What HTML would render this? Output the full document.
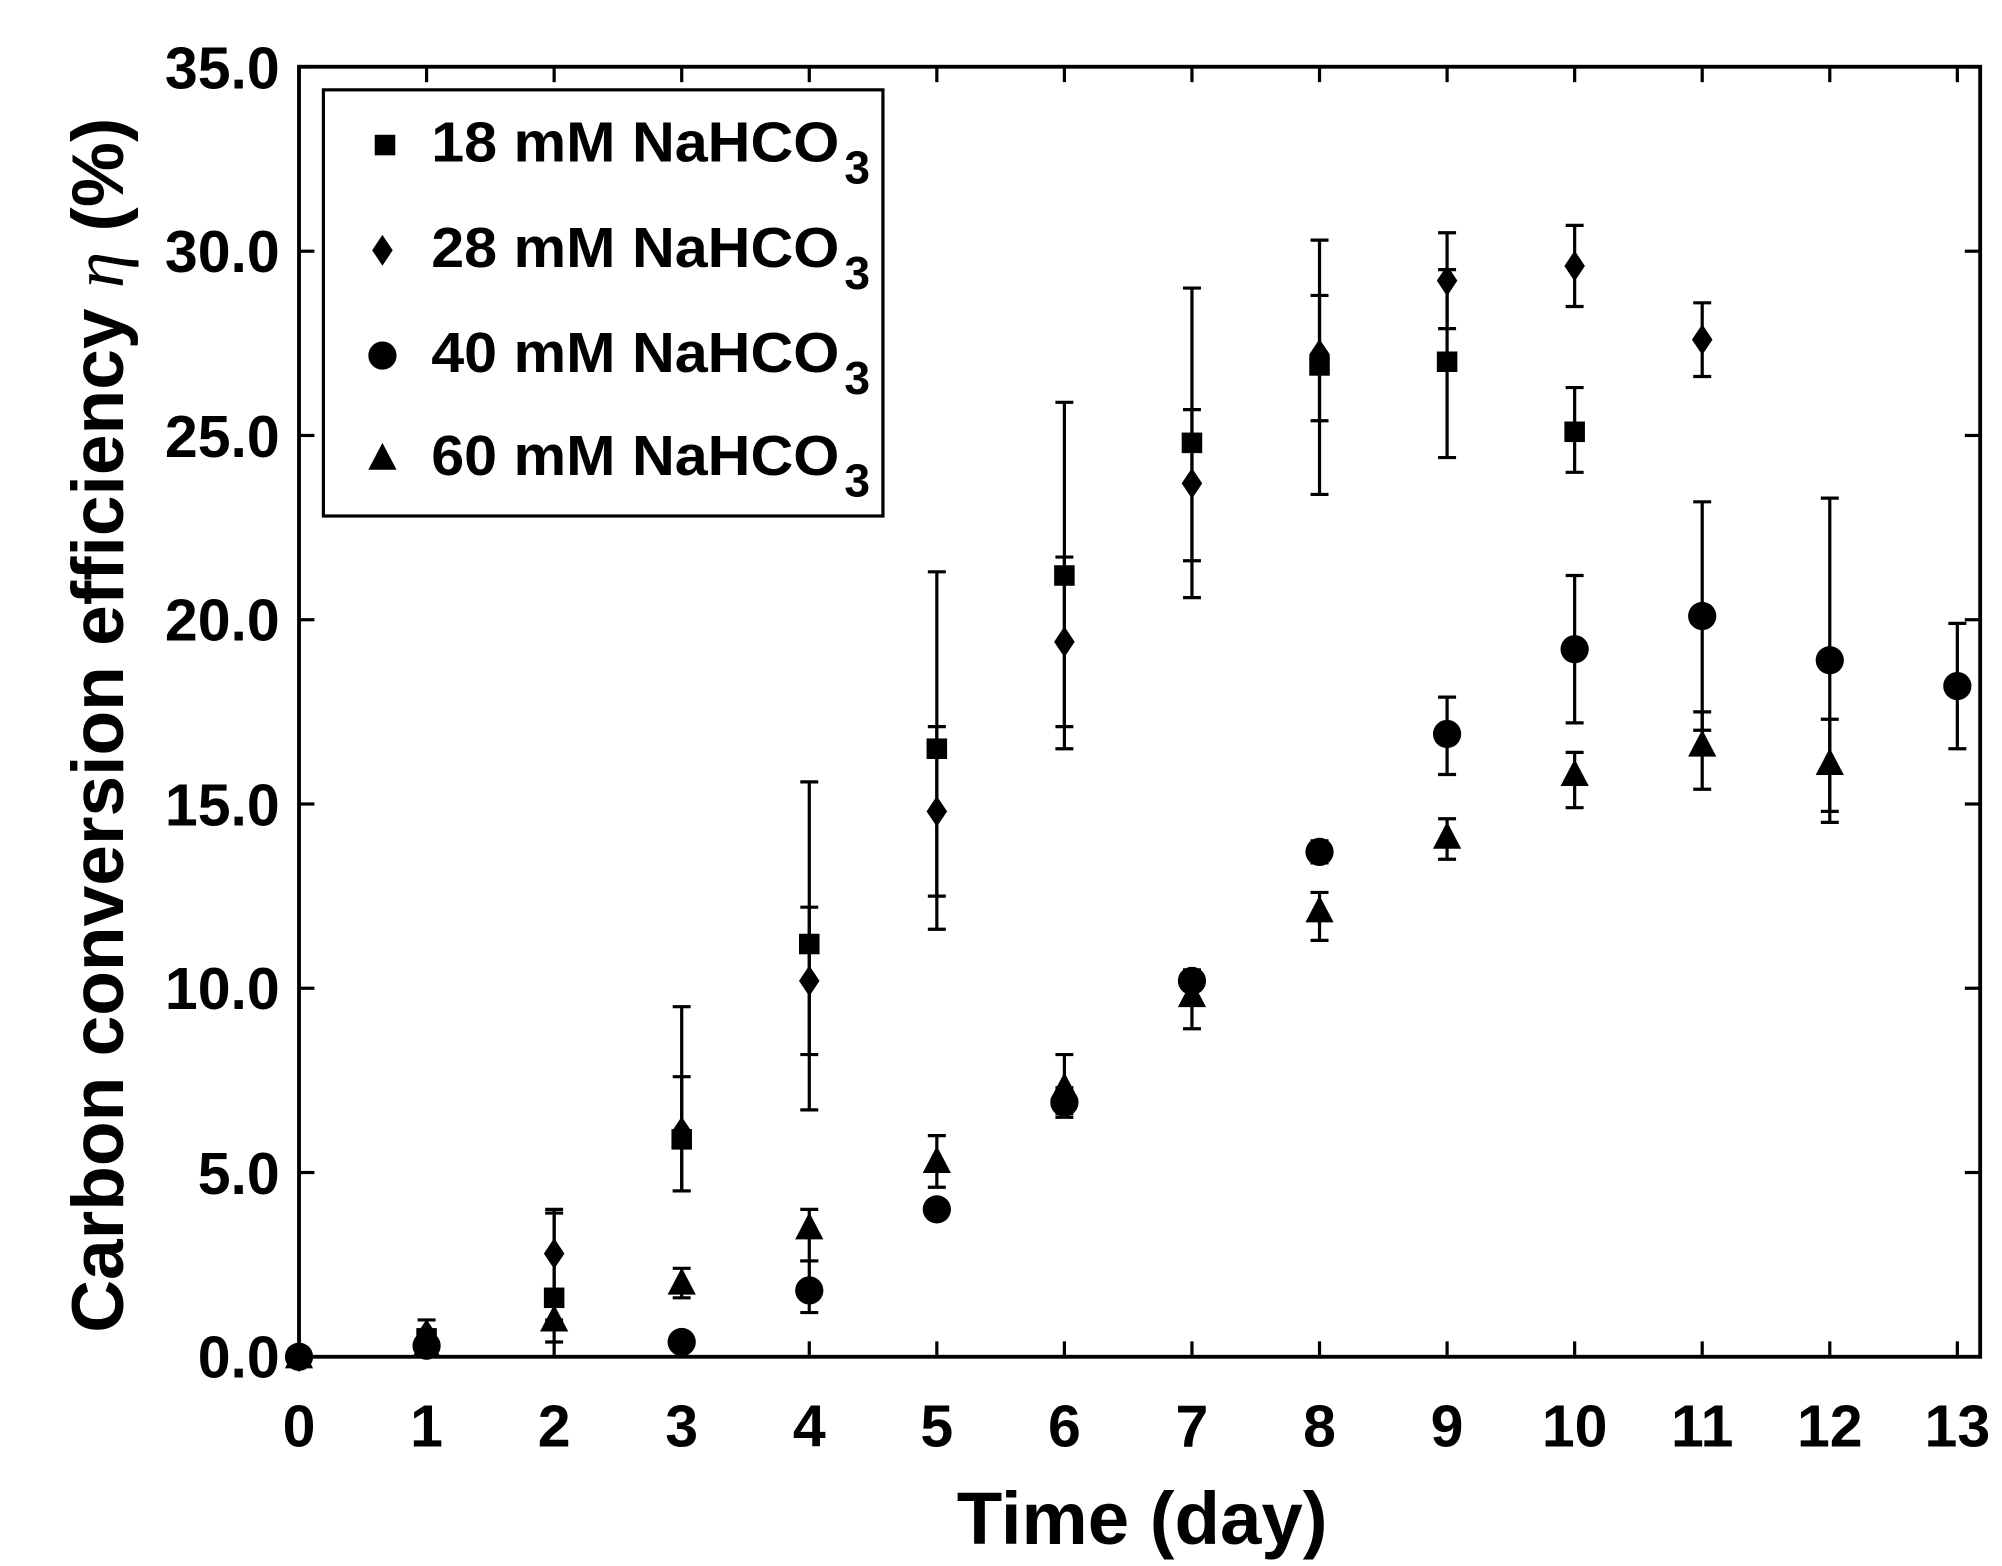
<!DOCTYPE html>
<html><head><meta charset="utf-8"><style>html,body{margin:0;padding:0;background:#fff}svg{display:block}</style></head>
<body>
<svg id="s" width="2002" height="1566" viewBox="0 0 1560 1220" preserveAspectRatio="none" xmlns="http://www.w3.org/2000/svg" font-family="Liberation Sans, sans-serif" font-weight="bold">
<rect x="233" y="52" width="1310" height="1005" fill="none" stroke="#000" stroke-width="3"/>
<g font-size="46" text-anchor="end">
<text x="218" y="1073">0.0</text><text x="218" y="930">5.0</text><text x="218" y="786">10.0</text><text x="218" y="643">15.0</text><text x="218" y="499">20.0</text><text x="218" y="356">25.0</text><text x="218" y="212">30.0</text><text x="218" y="69">35.0</text>
</g>
<g font-size="46" text-anchor="middle" id="xl"></g>
<text x="890" y="1203" font-size="58" text-anchor="middle">Time (day)</text>
<text transform="translate(96,565) rotate(-90)" font-size="57" text-anchor="middle">Carbon conversion efficiency <tspan font-family="Liberation Serif, serif" font-style="italic" font-weight="normal">η</tspan> (%)</text>
<rect x="252" y="70" width="436" height="332" fill="#fff" stroke="#000" stroke-width="2.5"/>
<g font-size="44">
<text x="336" y="126" textLength="318" lengthAdjust="spacingAndGlyphs">18 mM NaHCO</text><text x="658" y="143" font-size="36">3</text>
<text x="336" y="208" textLength="318" lengthAdjust="spacingAndGlyphs">28 mM NaHCO</text><text x="658" y="225" font-size="36">3</text>
<text x="336" y="290" textLength="318" lengthAdjust="spacingAndGlyphs">40 mM NaHCO</text><text x="658" y="307" font-size="36">3</text>
<text x="336" y="370" textLength="318" lengthAdjust="spacingAndGlyphs">60 mM NaHCO</text><text x="658" y="387" font-size="36">3</text>
</g>
<g id="g"></g>
</svg>
<script>
var NS="http://www.w3.org/2000/svg",g=document.getElementById('g'),xl=document.getElementById('xl');
function X(d){return 233+d*99.4}function Y(v){return 1057-v*28.71}
function el(t,a,p){var e=document.createElementNS(NS,t);for(var k in a)e.setAttribute(k,a[k]);(p||g).appendChild(e);return e}
for(var d=0;d<=13;d++){var t=el('text',{x:X(d),y:1127},xl);t.textContent=d;
el('line',{x1:X(d),x2:X(d),y1:1057,y2:1045,stroke:'#000','stroke-width':2.5});
el('line',{x1:X(d),x2:X(d),y1:52,y2:64,stroke:'#000','stroke-width':2.5});}
for(var v=0;v<=35;v+=5){el('line',{x1:233,x2:245,y1:Y(v),y2:Y(v),stroke:'#000','stroke-width':2.5});
el('line',{x1:1543,x2:1531,y1:Y(v),y2:Y(v),stroke:'#000','stroke-width':2.5});}
function mk(type,x,y){
 if(type==0)el('rect',{x:x-8,y:y-8,width:16,height:16});
 if(type==1)el('polygon',{points:(x)+','+(y-12)+' '+(x+8)+','+y+' '+x+','+(y+12)+' '+(x-8)+','+y});
 if(type==2)el('circle',{cx:x,cy:y,r:11});
 if(type==3)el('polygon',{points:x+','+(y-12)+' '+(x+11)+','+(y+9)+' '+(x-11)+','+(y+9)});
}
var D=[
[[0,0],[1,0.5],[2,1.6,1.0,4.0],[3,5.9,4.5,9.5],[4,11.2,8.2,15.6],[5,16.5,12.5,21.3],[6,21.2,16.5,25.9],[7,24.8,20.6,29.0],[8,26.9,23.4,30.3],[9,27.0,24.4,29.5],[10,25.1,24.0,26.3]],
[[0,0],[1,0.6,0.2,1.0],[2,2.8,1.7,3.9],[3,6.1,4.5,7.6],[4,10.2,6.7,12.2],[5,14.8,11.6,17.1],[6,19.4,17.1,21.7],[7,23.7,21.6,25.7],[8,27.2,25.4,28.8],[9,29.2,27.9,30.5],[10,29.6,28.5,30.7],[11,27.6,26.6,28.6]],
[[0,0],[1,0.3],[3,0.4],[4,1.8,1.2,2.6],[5,4.0],[6,6.9,6.5,7.3],[7,10.2],[8,13.7,13.4,14.0],[9,16.9,15.8,17.9],[10,19.2,17.2,21.2],[11,20.1,17.0,23.2],[12,18.9,14.5,23.3],[13,18.2,16.5,19.9]],
[[0,0],[1,0.3],[2,1.0,0.4,1.6],[3,2.0,1.6,2.4],[4,3.5,2.6,4.0],[5,5.3,4.6,6.0],[6,7.3,6.6,8.2],[7,9.8,8.9,10.5],[8,12.1,11.3,12.6],[9,14.1,13.5,14.6],[10,15.8,14.9,16.4],[11,16.6,15.4,17.5],[12,16.1,14.8,17.3]]];
D.forEach(function(s,i){s.forEach(function(p){var x=X(p[0]);
 if(p.length>2){el('line',{x1:x,x2:x,y1:Y(p[2]),y2:Y(p[3]),stroke:'#000','stroke-width':2.5});
  [p[2],p[3]].forEach(function(v){el('line',{x1:x-7,x2:x+7,y1:Y(v),y2:Y(v),stroke:'#000','stroke-width':2.5})});}
 mk(i,x,Y(p[1]));});});
mk(0,300,113);mk(1,298,195);mk(2,298,277);mk(3,298,357);
</script>
</body></html>
